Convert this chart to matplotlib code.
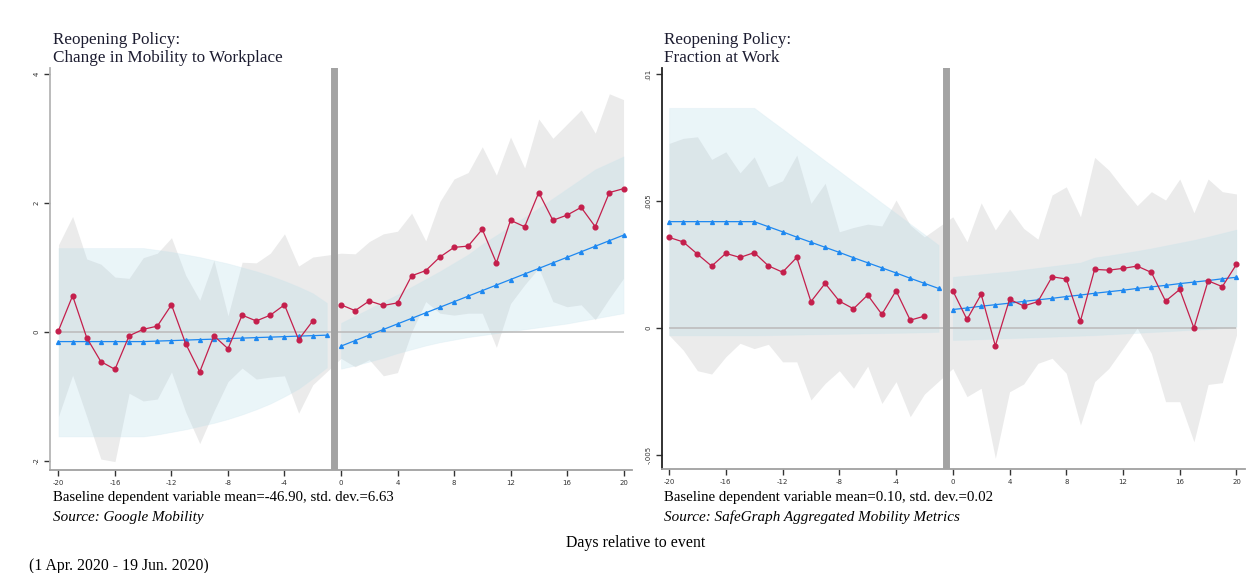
import matplotlib
matplotlib.use('Agg')
import matplotlib.pyplot as plt
import numpy as np

# event-time axis
pre_days = [-20, -19, -18, -17, -16, -15, -14, -13, -12, -11, -10, -9, -8, -7, -6, -5, -4, -3, -2]
trend_pre_days = pre_days + [-1]
post_days = [0, 1, 2, 3, 4, 5, 6, 7, 8, 9, 10, 11, 12, 13, 14, 15, 16, 17, 18, 19, 20]
xtick_vals = [-20, -16, -12, -8, -4, 0, 4, 8, 12, 16, 20]

# ---- Google mobility: change in mobility to workplace ----
g_coef_pre = [0.02, 0.56, -0.09, -0.46, -0.58, -0.06, 0.04, 0.09, 0.42, -0.18, -0.62, -0.06, -0.26,
              0.26, 0.17, 0.26, 0.42, -0.12, 0.17]
g_hi_pre = [1.35, 1.79, 1.13, 1.05, 0.85, 0.83, 1.15, 1.22, 1.46, 0.88, 0.49, 1.11, 0.25,
            1.08, 1.07, 1.22, 1.52, 1.02, 1.16]
g_lo_pre = [-1.31, -0.67, -1.31, -1.97, -2.01, -0.95, -1.07, -1.04, -0.62, -1.24, -1.73, -1.23, -0.77,
            -0.56, -0.73, -0.70, -0.68, -1.26, -0.82]
g_coef_post = [0.42, 0.33, 0.48, 0.41, 0.45, 0.87, 0.95, 1.16, 1.31, 1.33, 1.59, 1.07, 1.73, 1.63,
               2.16, 1.73, 1.81, 1.93, 1.63, 2.16, 2.22]
g_hi_post = [1.22, 1.21, 1.40, 1.52, 1.56, 1.84, 1.41, 2.02, 2.37, 2.47, 2.87, 2.43, 3.02, 2.54,
             3.30, 3.00, 3.22, 3.44, 3.08, 3.69, 3.60]
g_lo_post = [-0.41, -0.54, -0.43, -0.68, -0.63, 0.00, 0.47, 0.29, 0.26, 0.29, 0.29, -0.24, 0.44, 0.73,
             0.99, 0.47, 0.39, 0.42, 0.19, 0.52, 0.83]
g_fit_pre = [-0.150, -0.150, -0.150, -0.150, -0.150, -0.150, -0.150, -0.142, -0.135, -0.127, -0.119,
             -0.112, -0.104, -0.096, -0.088, -0.081, -0.073, -0.065, -0.058, -0.050]
g_fit_hi_pre = [1.30, 1.30, 1.30, 1.30, 1.30, 1.30, 1.30, 1.27, 1.24, 1.20, 1.16, 1.11, 1.06,
                1.00, 0.94, 0.87, 0.79, 0.70, 0.60, 0.45]
g_fit_lo_pre = [-1.62, -1.62, -1.62, -1.62, -1.62, -1.62, -1.62, -1.59, -1.55, -1.51, -1.46, -1.41,
                -1.35, -1.28, -1.20, -1.11, -1.00, -0.88, -0.72, -0.55]
g_fit_post = [-0.220, -0.134, -0.048, 0.038, 0.124, 0.210, 0.296, 0.382, 0.468, 0.554, 0.640, 0.726,
              0.812, 0.898, 0.984, 1.070, 1.156, 1.242, 1.328, 1.414, 1.500]
g_fit_hi_post = [0.14, 0.25, 0.36, 0.47, 0.58, 0.70, 0.82, 0.94, 1.07, 1.20, 1.36, 1.50, 1.64, 1.78,
                 1.92, 2.07, 2.22, 2.37, 2.52, 2.62, 2.72]
g_fit_lo_post = [-0.57, -0.52, -0.46, -0.40, -0.33, -0.27, -0.21, -0.16, -0.12, -0.08, -0.05, -0.02,
                 0.01, 0.04, 0.07, 0.10, 0.13, 0.17, 0.21, 0.25, 0.29]

# ---- SafeGraph: fraction at work ----
s_coef_pre = [0.00357, 0.00339, 0.00291, 0.00244, 0.00294, 0.00278, 0.00297, 0.00245, 0.00220,
              0.00278, 0.00104, 0.00176, 0.00106, 0.00076, 0.00130, 0.00054, 0.00147, 0.00031, 0.00047]
s_hi_pre = [0.00727, 0.00747, 0.00753, 0.00664, 0.00694, 0.00611, 0.00674, 0.00556, 0.00580,
            0.00681, 0.00491, 0.00570, 0.00379, 0.00396, 0.00409, 0.00402, 0.00504, 0.00405, 0.00359]
s_lo_pre = [-0.00028, -0.00087, -0.00168, -0.00181, -0.00113, -0.00060, -0.00081, -0.00064, -0.00133,
            -0.00133, -0.00283, -0.00218, -0.00168, -0.00237, -0.00150, -0.00297, -0.00211, -0.00349,
            -0.00260]
s_coef_post = [0.00147, 0.00034, 0.00133, -0.00070, 0.00113, 0.00087, 0.00104, 0.00202, 0.00193,
               0.00028, 0.00231, 0.00228, 0.00235, 0.00244, 0.00219, 0.00106, 0.00152, 0.00000,
               0.00186, 0.00163, 0.00251]
s_hi_post = [0.00438, 0.00340, 0.00493, 0.00386, 0.00469, 0.00392, 0.00350, 0.00524, 0.00556,
             0.00438, 0.00672, 0.00622, 0.00550, 0.00482, 0.00537, 0.00504, 0.00587, 0.00454,
             0.00587, 0.00537, 0.00528]
s_lo_post = [-0.00159, -0.00270, -0.00237, -0.00513, -0.00251, -0.00220, -0.00139, -0.00119, -0.00178,
             -0.00382, -0.00211, -0.00159, -0.00080, 0.00000, -0.00100, -0.00290, -0.00290, -0.00448,
             -0.00222, -0.00215, -0.00028]
s_fit_pre = [0.00419, 0.00419, 0.00419, 0.00419, 0.00419, 0.00419, 0.00419, 0.00399, 0.00379,
             0.00358, 0.00338, 0.00318, 0.00298, 0.00277, 0.00257, 0.00237, 0.00217, 0.00196,
             0.00176, 0.00156]
s_fit_hi_pre = [0.00867, 0.00867, 0.00867, 0.00867, 0.00867, 0.00867, 0.00867, 0.00825, 0.00784,
                0.00742, 0.00701, 0.00659, 0.00618, 0.00576, 0.00535, 0.00493, 0.00452, 0.00410,
                0.00369, 0.00327]
s_fit_lo_pre = [-0.00029, -0.00029, -0.00029, -0.00029, -0.00029, -0.00029, -0.00029, -0.00028,
                -0.00027, -0.00026, -0.00025, -0.00024, -0.00023, -0.00022, -0.00021, -0.00020,
                -0.00019, -0.00018, -0.00017, -0.00015]
s_fit_post = [0.00073, 0.00079, 0.00086, 0.00092, 0.00098, 0.00105, 0.00111, 0.00117, 0.00124,
              0.00130, 0.00137, 0.00143, 0.00149, 0.00156, 0.00162, 0.00168, 0.00175, 0.00181,
              0.00187, 0.00194, 0.00200]
s_fit_hi_post = [0.00202, 0.00207, 0.00212, 0.00218, 0.00223, 0.00230, 0.00237, 0.00244, 0.00251,
                 0.00258, 0.00278, 0.00286, 0.00295, 0.00304, 0.00314, 0.00325, 0.00336, 0.00347,
                 0.00360, 0.00374, 0.00388]
s_fit_lo_post = [-0.00047, -0.00046, -0.00044, -0.00042, -0.00040, -0.00038, -0.00036, -0.00034,
                 -0.00032, -0.00030, -0.00028, -0.00025, -0.00022, -0.00019, -0.00016, -0.00013,
                 -0.00010, -0.00007, -0.00004, 0.00000, 0.00005]

RED = '#c41f4c'
BLUE = '#1e88f0'
TXT = '#1c1c30'
SERIF = 'Liberation Serif'

W, H = 1248, 573
fig = plt.figure(figsize=(W / 100, H / 100), dpi=100)


def px_axes(x0, y0, x1, y1):
    return fig.add_axes([x0 / W, 1 - y1 / H, (x1 - x0) / W, (y1 - y0) / H])


def draw_panel(ax, coef_pre, hi_pre, lo_pre, coef_post, hi_post, lo_post,
               fit_pre, fit_hi_pre, fit_lo_pre, fit_post, fit_hi_post, fit_lo_post,
               left_spine_color):
    ci_days = pre_days + post_days
    ax.fill_between(ci_days, lo_pre + lo_post, hi_pre + hi_post,
                    color='lightgray', alpha=0.45, lw=0, zorder=1)
    ax.fill_between(trend_pre_days, fit_lo_pre, fit_hi_pre, color='lightblue', alpha=0.25,
                    lw=0.6, edgecolor='#cde6ee', zorder=2)
    ax.fill_between(post_days, fit_lo_post, fit_hi_post, color='lightblue', alpha=0.25,
                    lw=0.6, edgecolor='#cde6ee', zorder=2)
    ax.hlines(0, ci_days[0], ci_days[-1], color='#bdbdbd', lw=1.2, zorder=3)
    ax.axvline(-0.5, color='#a3a3a3', lw=5, zorder=4)

    for d, v in ((pre_days, coef_pre), (post_days, coef_post)):
        ax.plot(d, v, color=RED, lw=0.9, marker='o', ms=3.4, zorder=6)
    for d, v in ((trend_pre_days, fit_pre), (post_days, fit_post)):
        ax.plot(d, v, color=BLUE, lw=0.9, marker='^', ms=2.8, zorder=5)

    ax.set_xlim(-20.6, 20.6)
    ax.set_xticks(xtick_vals)
    ax.set_xticklabels([str(t) for t in xtick_vals])
    for s in ('top', 'right'):
        ax.spines[s].set_visible(False)
    ax.spines['left'].set_color(left_spine_color)
    ax.spines['bottom'].set_color('#a0a0a0')
    ax.spines['left'].set_linewidth(1.3)
    ax.spines['bottom'].set_linewidth(1.3)
    ax.tick_params(axis='both', length=4, width=1, color='#333333', labelsize=5, labelcolor='#333333')
    ax.tick_params(axis='y', labelrotation=90)
    for lab in ax.get_yticklabels():
        lab.set_va('center')
    ax.set_facecolor('white')


# left panel
ax1 = px_axes(50, 68, 632, 470)
draw_panel(ax1, g_coef_pre, g_hi_pre, g_lo_pre, g_coef_post, g_hi_post, g_lo_post,
           g_fit_pre, g_fit_hi_pre, g_fit_lo_pre, g_fit_post, g_fit_hi_post, g_fit_lo_post,
           '#b5b5b5')
ax1.set_ylim(-2.14, 4.09)
ax1.set_yticks([-2, 0, 2, 4])
ax1.set_yticklabels(['-2', '0', '2', '4'])

# right panel
ax2 = px_axes(662, 68, 1245, 469)
draw_panel(ax2, s_coef_pre, s_hi_pre, s_lo_pre, s_coef_post, s_hi_post, s_lo_post,
           s_fit_pre, s_fit_hi_pre, s_fit_lo_pre, s_fit_post, s_fit_hi_post, s_fit_lo_post,
           '#222222')
ax2.set_xlim(-20.5, 20.6)
ax2.set_ylim(-0.00555, 0.01024)
ax2.set_yticks([-0.005, 0, 0.005, 0.01])
ax2.set_yticklabels(['-.005', '0', '.005', '.01'])


def ftext(x, y, s, **kw):
    kw.setdefault('family', SERIF)
    kw.setdefault('color', TXT)
    return fig.text(x / W, 1 - y / H, s, **kw)


ftext(53, 32, 'Reopening Policy:\nChange in Mobility to Workplace', fontsize=12.3, va='top',
      linespacing=1.15)
ftext(664, 32, 'Reopening Policy:\nFraction at Work', fontsize=12.3, va='top', linespacing=1.15)

ftext(53, 497, 'Baseline dependent variable mean=-46.90, std. dev.=6.63', fontsize=10.7, va='center',
      color='black')
ftext(53, 517, 'Source: Google Mobility', fontsize=10.9, va='center', style='italic', color='black')
ftext(664, 497, 'Baseline dependent variable mean=0.10, std. dev.=0.02', fontsize=10.7, va='center',
      color='black')
ftext(664, 517, 'Source: SafeGraph Aggregated Mobility Metrics', fontsize=10.9, va='center',
      style='italic', color='black')

ftext(636, 543, 'Days relative to event', fontsize=11.4, va='center', ha='center', color='black')
ftext(29, 566, '(1 Apr. 2020 - 19 Jun. 2020)', fontsize=11.3, va='center', color='black')

fig.savefig('out.png', dpi=100, facecolor='white')
